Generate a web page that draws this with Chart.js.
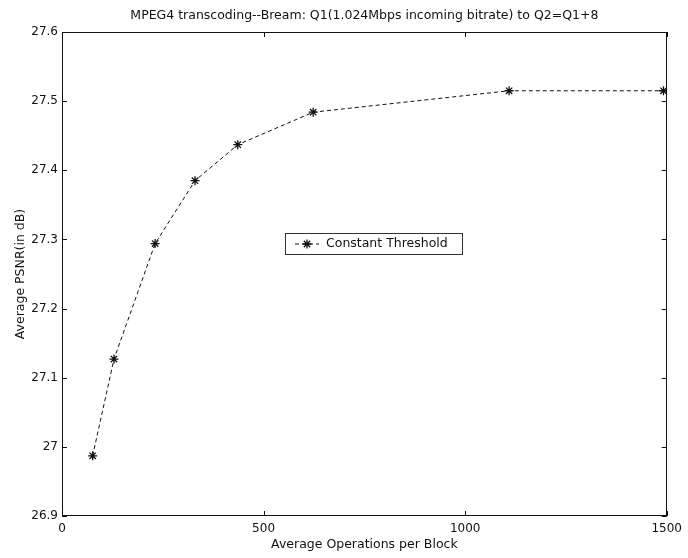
<!DOCTYPE html>
<html>
<head>
<meta charset="utf-8">
<script src="https://cdn.jsdelivr.net/npm/chart.js@4"></script>
<style>
  html, body { margin: 0; padding: 0; background: #fff; }
  #wrap { width: 688px; height: 558px; }
</style>
</head>
<body>
<div id="wrap"><canvas id="c" width="688" height="558"></canvas></div>
<script>
// Average operations per block vs. average PSNR (dB)
const opsPerBlock = [76, 129, 231, 330, 436, 623, 1109, 1492];
const psnr = [26.987, 27.127, 27.294, 27.385, 27.437, 27.484, 27.515, 27.515];
const seriesName = 'Constant Threshold';
const chartTitle = 'MPEG4 transcoding--Bream: Q1(1.024Mbps incoming bitrate) to Q2=Q1+8';
const xTitle = 'Average Operations per Block';
const yTitle = 'Average PSNR(in dB)';
const xTicks = [0, 500, 1000, 1500];
const yTicks = [26.9, 27.0, 27.1, 27.2, 27.3, 27.4, 27.5, 27.6];

const FONT = '"DejaVu Sans", Verdana, sans-serif';
const INK = '#111';

// Box, inward ticks on all four sides, titles and the in-plot legend
const framePlugin = {
  id: 'frame',
  afterDraw(chart) {
    const { ctx, chartArea: a, scales } = chart;
    const tl = 5;
    ctx.save();
    ctx.strokeStyle = INK;
    ctx.lineWidth = 1;
    ctx.strokeRect(Math.round(a.left) + 0.5, Math.round(a.top) + 0.5,
                   Math.round(a.right - a.left) - 1, Math.round(a.bottom - a.top) - 1);
    ctx.beginPath();
    scales.x.ticks.forEach(t => {
      const px = Math.round(scales.x.getPixelForValue(t.value)) + 0.5;
      ctx.moveTo(px, a.bottom); ctx.lineTo(px, a.bottom - tl);
      ctx.moveTo(px, a.top); ctx.lineTo(px, a.top + tl);
    });
    scales.y.ticks.forEach(t => {
      const py = Math.round(scales.y.getPixelForValue(t.value)) + 0.5;
      ctx.moveTo(a.left, py); ctx.lineTo(a.left + tl, py);
      ctx.moveTo(a.right, py); ctx.lineTo(a.right - tl, py);
    });
    ctx.stroke();

    // titles
    ctx.fillStyle = INK;
    ctx.textAlign = 'center';
    ctx.textBaseline = 'alphabetic';
    ctx.font = '12.5px ' + FONT;
    const cx = (a.left + a.right) / 2;
    ctx.fillText(chartTitle, cx, 19);
    ctx.fillText(xTitle, cx, 548);
    ctx.save();
    ctx.translate(24, (a.top + a.bottom) / 2);
    ctx.rotate(-Math.PI / 2);
    ctx.fillText(yTitle, 0, 0);
    ctx.restore();

    // legend
    const ds = chart.data.datasets[0];
    const bx = 285, by = 233, bw = 177, bh = 21;
    ctx.fillStyle = '#fff';
    ctx.fillRect(bx, by, bw, bh);
    ctx.strokeStyle = '#333';
    ctx.strokeRect(bx + 0.5, by + 0.5, bw, bh);
    const ly = by + bh / 2 + 0.5;
    ctx.strokeStyle = ds.borderColor;
    ctx.lineWidth = ds.borderWidth;
    ctx.setLineDash(ds.borderDash);
    ctx.beginPath();
    ctx.moveTo(bx + 10, ly); ctx.lineTo(bx + 34, ly);
    ctx.stroke();
    ctx.setLineDash([]);
    ctx.lineWidth = ds.pointBorderWidth;
    Chart.helpers.drawPoint(ctx, {
      pointStyle: ds.pointStyle, radius: ds.pointRadius, borderWidth: ds.pointBorderWidth, rotation: 0
    }, bx + 22, ly);
    ctx.fillStyle = INK;
    ctx.textAlign = 'left';
    ctx.textBaseline = 'middle';
    ctx.font = '12.5px ' + FONT;
    ctx.fillText(seriesName, bx + 41, ly);
    ctx.restore();
  }
};

new Chart(document.getElementById('c'), {
  type: 'line',
  data: {
    datasets: [{
      label: seriesName,
      data: opsPerBlock.map((x, i) => ({ x, y: psnr[i] })),
      borderColor: INK,
      borderWidth: 1,
      borderDash: [4, 3],
      pointStyle: 'star',
      pointRadius: 4.5,
      pointBorderWidth: 1.3,
      pointBorderColor: INK,
      pointBackgroundColor: INK,
      tension: 0,
      fill: false
    }]
  },
  options: {
    responsive: false,
    animation: false,
    devicePixelRatio: 1,
    layout: { padding: { top: 32, right: 17, bottom: 0, left: 0 } },
    plugins: { legend: { display: false }, title: { display: false }, tooltip: { enabled: false } },
    scales: {
      x: {
        type: 'linear', min: 0, max: 1500,
        afterBuildTicks: s => { s.ticks = xTicks.map(v => ({ value: v })); },
        afterFit: s => { s.height = 42; },
        grid: { display: false, drawTicks: false },
        border: { display: false },
        ticks: { color: INK, padding: 6, maxRotation: 0, font: { family: FONT, size: 12 },
                 callback: v => String(v) }
      },
      y: {
        type: 'linear', min: 26.9, max: 27.6,
        afterBuildTicks: s => { s.ticks = yTicks.map(v => ({ value: v })); },
        afterFit: s => { s.width = 62; },
        grid: { display: false, drawTicks: false },
        border: { display: false },
        ticks: { color: INK, padding: 4, font: { family: FONT, size: 12 },
                 callback: v => String(Math.round(v * 10) / 10) }
      }
    }
  },
  plugins: [framePlugin]
});
</script>
</body>
</html>
